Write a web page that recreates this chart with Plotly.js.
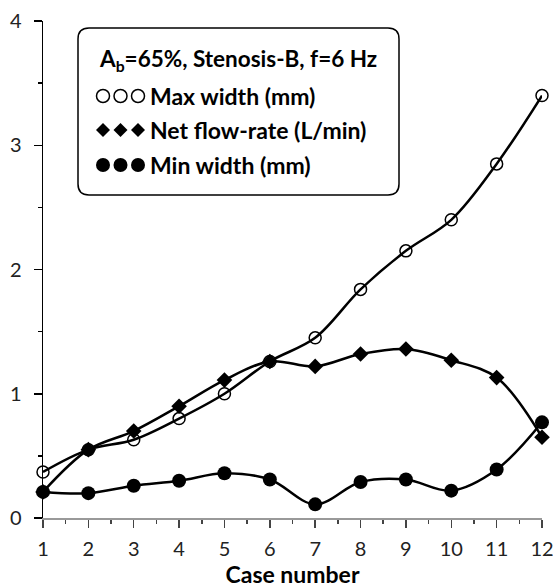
<!DOCTYPE html>
<html>
<head>
<meta charset="utf-8">
<script src="https://cdn.plot.ly/plotly-3.0.1.min.js"></script>
<style>html,body{margin:0;padding:0;background:#fff;}#chart{width:553px;height:588px;}</style>
</head>
<body>
<div id="chart"></div>
<script>
// ---- data ----
const caseNumbers = [1, 2, 3, 4, 5, 6, 7, 8, 9, 10, 11, 12];
const maxWidth    = [0.37, 0.55, 0.63, 0.80, 1.00, 1.26, 1.45, 1.84, 2.15, 2.40, 2.85, 3.40];
const netFlowRate = [0.21, 0.55, 0.70, 0.90, 1.11, 1.26, 1.22, 1.32, 1.36, 1.27, 1.13, 0.65];
const minWidth    = [0.21, 0.20, 0.26, 0.30, 0.36, 0.31, 0.11, 0.29, 0.31, 0.22, 0.39, 0.77];
const seriesNames = ["Max width (mm)", "Net flow-rate (L/min)", "Min width (mm)"];
const legendTitle = "A<sub>b</sub>=65%, Stenosis-B, f=6 Hz";
const xTitle = "Case number";
const yTicks = [0, 1, 2, 3, 4];

const FONT = "Lato, 'Noto Sans', sans-serif";
const lineStyle = {color: "#000", width: 2.5, shape: "spline", smoothing: 1};

const traces = [
  {x: caseNumbers, y: maxWidth, name: seriesNames[0], mode: "lines+markers", line: lineStyle, cliponaxis: false,
   marker: {symbol: "circle-open", size: 12, color: "#000", line: {width: 1.5, color: "#000"}}},
  {x: caseNumbers, y: netFlowRate, name: seriesNames[1], mode: "lines+markers", line: lineStyle, cliponaxis: false,
   marker: {symbol: "diamond", size: 12, color: "#000"}},
  {x: caseNumbers, y: minWidth, name: seriesNames[2], mode: "lines+markers", line: lineStyle, cliponaxis: false,
   marker: {symbol: "circle", size: 14, color: "#000"}}
];

// legend box geometry (plot area: x 43..542, y 21..518)
const W = 499, H = 497;
const px = v => (v - 43) / W;
const py = v => (518 - v) / H;

const shapes = [];
const bw = 321, bh = 167, r = 11;
shapes.push({
  type: "path", xref: "paper", yref: "paper", xsizemode: "pixel", ysizemode: "pixel",
  xanchor: px(78), yanchor: py(195),
  path: `M ${r},0 L ${bw - r},0 Q ${bw},0 ${bw},${r} L ${bw},${bh - r} Q ${bw},${bh} ${bw - r},${bh} L ${r},${bh} Q 0,${bh} 0,${bh - r} L 0,${r} Q 0,0 ${r},0 Z`,
  line: {color: "#000", width: 1.5}, fillcolor: "#fff", layer: "above"
});
const mx = [103, 120.5, 138];
const rowY = [96, 130, 165];
mx.forEach(x => {
  shapes.push({type: "circle", xref: "paper", yref: "paper", xsizemode: "pixel", ysizemode: "pixel",
    xanchor: px(x), yanchor: py(rowY[0]), x0: -6.5, x1: 6.5, y0: -6.5, y1: 6.5,
    line: {color: "#000", width: 1.5}, fillcolor: "rgba(0,0,0,0)"});
  shapes.push({type: "path", xref: "paper", yref: "paper", xsizemode: "pixel", ysizemode: "pixel",
    xanchor: px(x), yanchor: py(rowY[1]), path: "M 0,7 L 7,0 L 0,-7 L -7,0 Z",
    line: {color: "#000", width: 0}, fillcolor: "#000"});
  shapes.push({type: "circle", xref: "paper", yref: "paper", xsizemode: "pixel", ysizemode: "pixel",
    xanchor: px(x), yanchor: py(rowY[2]), x0: -7, x1: 7, y0: -7, y1: 7,
    line: {color: "#000", width: 0}, fillcolor: "#000"});
});

const annFont = {family: FONT, size: 23, color: "#000"};
const annotations = [
  {xref: "paper", yref: "paper", x: px(97), y: py(60), xanchor: "left", yanchor: "middle", showarrow: false,
   text: "<b>" + legendTitle + "</b>", font: {family: FONT, size: 22.5, color: "#000"}},
  {xref: "paper", yref: "paper", x: px(148), y: py(rowY[0]), xanchor: "left", yanchor: "middle", showarrow: false,
   text: "<b>" + seriesNames[0] + "</b>", font: annFont},
  {xref: "paper", yref: "paper", x: px(148), y: py(rowY[1]), xanchor: "left", yanchor: "middle", showarrow: false,
   text: "<b>" + seriesNames[1] + "</b>", font: annFont},
  {xref: "paper", yref: "paper", x: px(148), y: py(rowY[2]), xanchor: "left", yanchor: "middle", showarrow: false,
   text: "<b>" + seriesNames[2] + "</b>", font: annFont}
];

const layout = {
  width: 553, height: 588,
  margin: {l: 43, r: 11, t: 21, b: 70, pad: 0},
  paper_bgcolor: "#fff", plot_bgcolor: "#fff",
  showlegend: false,
  font: {family: FONT, size: 20, color: "#222"},
  xaxis: {
    range: [1, 12], tickvals: caseNumbers, ticks: "outside", ticklen: 8, tickwidth: 1.5, tickcolor: "#444",
    showline: true, linecolor: "#999", linewidth: 1.5, showgrid: false, zeroline: false,
    minor: {dtick: 0.5, tick0: 0.5, ticks: "outside", ticklen: 4, tickwidth: 1.5, tickcolor: "#444", showgrid: false},
    tickfont: {family: FONT, size: 20, color: "#222"}, ticklabelstandoff: 4, ticklabeloverflow: "allow",
    title: {text: "<b>" + xTitle + "</b>", font: {family: FONT, size: 23, color: "#000"}, standoff: 12}
  },
  yaxis: {
    range: [0, 4], tickvals: yTicks, ticks: "outside", ticklen: 8, tickwidth: 1.5, tickcolor: "#000",
    showline: true, linecolor: "#000", linewidth: 1.5, showgrid: false, zeroline: false,
    minor: {dtick: 0.5, tick0: 0, ticks: "outside", ticklen: 4, tickwidth: 1.5, tickcolor: "#000", showgrid: false},
    tickfont: {family: FONT, size: 20, color: "#222"}, ticklabelstandoff: 8, ticklabeloverflow: "allow"
  },
  shapes: shapes,
  annotations: annotations
};

Plotly.newPlot("chart", traces, layout, {displayModeBar: false, staticPlot: true});
</script>
</body>
</html>
